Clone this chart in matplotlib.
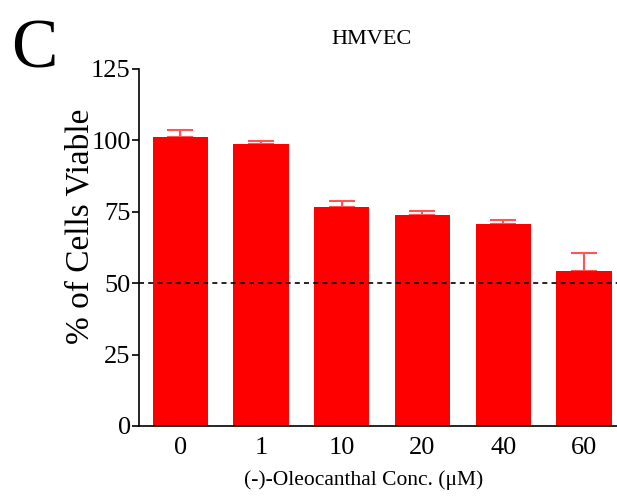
import numpy as np
import matplotlib.pyplot as plt

plt.rcParams['font.family'] = ['Liberation Serif', 'DejaVu Serif']
serif = ['Liberation Serif', 'DejaVu Serif']

conc_labels = ['0', '1', '10', '20', '40', '60']
viability = [101.3, 98.6, 76.7, 73.8, 70.7, 54.3]
sem = [2.3, 1.2, 2.1, 1.5, 1.4, 6.4]

fig = plt.figure(figsize=(6.17, 4.97), dpi=100)
ax = fig.add_axes([0.2253, 0.1429, 0.7747, 0.7183])

x = np.arange(len(conc_labels))
ax.bar(x, viability, width=0.685, color='#ff0000', zorder=2)
ax.errorbar(x, viability, yerr=[np.zeros(len(sem)), sem], fmt='none',
            ecolor='#ff5555', elinewidth=1.5, capsize=9.5, capthick=1.5, zorder=1)
ax.axhline(50, color='black', linestyle=(0, (3, 2.5)), linewidth=1.2, zorder=3)

ax.set_xlim(-0.51, 5.41)
ax.set_ylim(0, 125)
ax.set_yticks([0, 25, 50, 75, 100, 125])
ax.set_xticks(x)
ax.set_xticklabels(conc_labels)
ax.tick_params(axis='x', length=0, labelsize=19, pad=8)
ax.tick_params(axis='y', length=5, width=1.2, labelsize=19, pad=1)

ax.spines['top'].set_visible(False)
ax.spines['right'].set_visible(False)
ax.spines['left'].set_linewidth(1.2)
ax.spines['bottom'].set_linewidth(1.2)

ax.set_ylabel('% of Cells Viable', fontsize=24, family=serif)
ax.yaxis.set_label_coords(-0.092, 0.56)
ax.set_xlabel('(-)-Oleocanthal Conc. (\u03bcM)', fontsize=15.5, family=serif)
ax.xaxis.set_label_coords(0.469, -0.125)
ax.set_title('HMVEC', fontsize=16, family=serif, pad=18, x=0.487)
fig.text(0.018, 0.865, 'C', fontsize=50, family=serif)

fig.savefig('out.png', dpi=100)
